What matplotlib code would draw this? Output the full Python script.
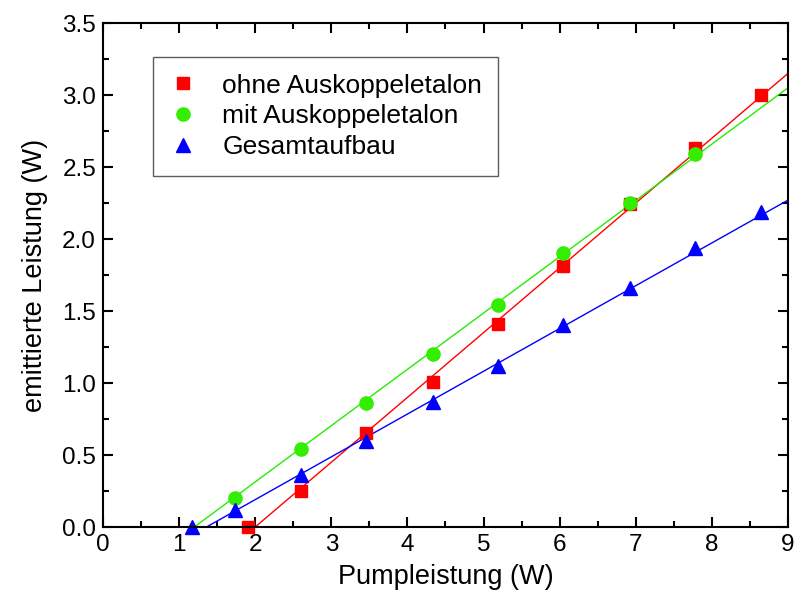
import matplotlib
matplotlib.use("Agg")
import matplotlib.pyplot as plt
from matplotlib.ticker import MultipleLocator

plt.rcParams['font.family'] = ['Liberation Sans', 'DejaVu Sans']

# Messwerte
x_ohne = [1.90, 2.60, 3.46, 4.33, 5.19, 6.05, 6.92, 7.78, 8.65]
y_ohne = [0.00, 0.25, 0.65, 1.01, 1.41, 1.81, 2.24, 2.63, 3.00]

x_mit = [1.73, 2.60, 3.46, 4.33, 5.19, 6.05, 6.92, 7.78]
y_mit = [0.20, 0.54, 0.86, 1.20, 1.54, 1.90, 2.25, 2.59]

x_ges = [1.17, 1.73, 2.60, 3.46, 4.33, 5.19, 6.05, 6.92, 7.78, 8.65]
y_ges = [0.00, 0.12, 0.36, 0.60, 0.87, 1.12, 1.40, 1.66, 1.94, 2.19]

fit_ohne_x, fit_ohne_y = [2.00, 9.0], [0.0, 3.15]
fit_mit_x, fit_mit_y = [1.20, 9.0], [0.0, 3.05]
fit_ges_x, fit_ges_y = [1.36, 9.0], [0.0, 2.27]

fig = plt.figure(figsize=(7.95, 5.99), dpi=100)
ax = fig.add_axes([103/795, 1-527/599, 685/795, 504/599])

ax.plot(fit_ohne_x, fit_ohne_y, c="#ff0000", lw=1)
ax.plot(fit_mit_x, fit_mit_y, c="#22ee00", lw=1)
ax.plot(fit_ges_x, fit_ges_y, c="#0000ff", lw=1)

ax.plot(x_ohne, y_ohne, "s", c="#ff0000", ms=8.5, label="ohne Auskoppeletalon", clip_on=False)
ax.plot(x_mit, y_mit, "o", c="#33ee00", ms=9.5, label="mit Auskoppeletalon", clip_on=False)
ax.plot(x_ges, y_ges, "^", c="#0000ff", ms=10, label="Gesamtaufbau", clip_on=False)

ax.set_xlim(0, 9)
ax.set_ylim(0, 3.5)
ax.xaxis.set_major_locator(MultipleLocator(1))
ax.xaxis.set_minor_locator(MultipleLocator(0.5))
ax.yaxis.set_major_locator(MultipleLocator(0.5))
ax.yaxis.set_minor_locator(MultipleLocator(0.25))
ax.tick_params(which="both", direction="in", top=True, right=True, width=1.5, labelsize=17.5)
ax.tick_params(which="major", length=7.5, pad=5)
ax.tick_params(which="minor", length=4.5)
ax.yaxis.set_major_formatter(plt.FormatStrFormatter("%.1f"))
for s in ax.spines.values():
    s.set_linewidth(1.5)

ax.set_xlabel("Pumpleistung (W)", fontsize=19.5, labelpad=6)
ax.set_ylabel("emittierte Leistung (W)", fontsize=19.5, labelpad=10)

leg = ax.legend(loc="upper left", bbox_to_anchor=(0.073, 0.932), fontsize=19,
                frameon=True, fancybox=False, edgecolor="#333333",
                handlelength=1.0, handletextpad=1.0, borderpad=0.62, labelspacing=0.26,
                borderaxespad=0)
leg.get_frame().set_linewidth(1.0)

fig.savefig("out.png", dpi=100)
